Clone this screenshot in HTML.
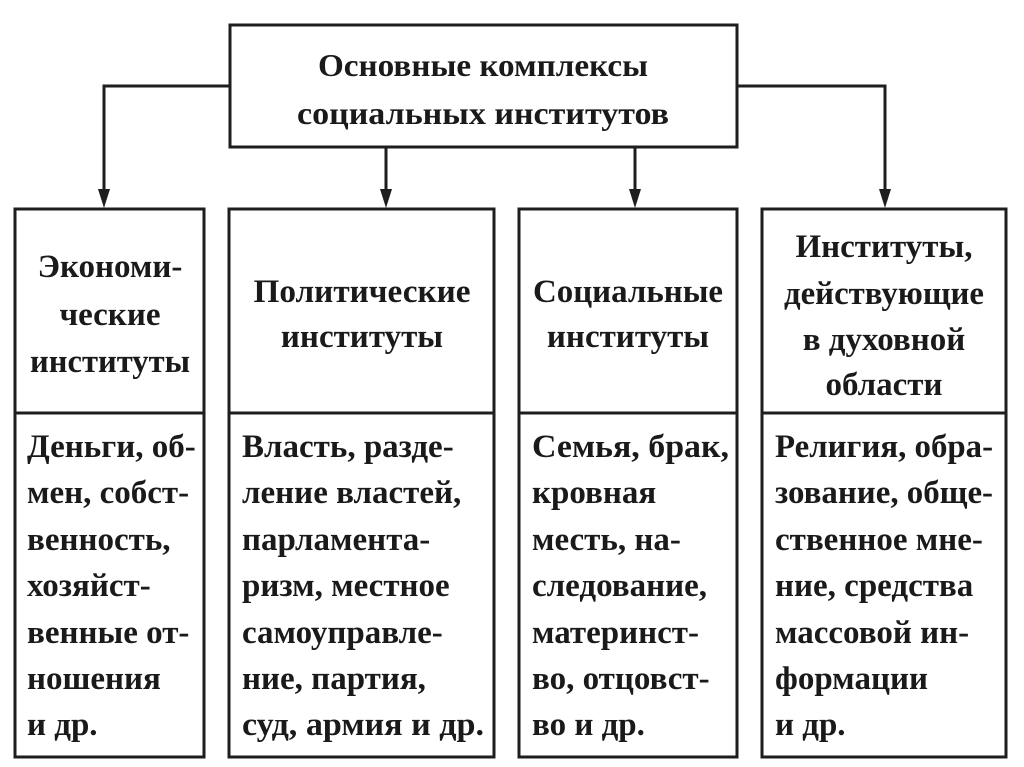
<!DOCTYPE html>
<html><head><meta charset="utf-8"><style>
html,body{margin:0;padding:0;background:#fff;}
svg{display:block}
text{font-family:"Liberation Serif",serif;font-weight:bold;fill:#1a1a1a;}
.h{font-size:33px;text-anchor:middle;}
.b{font-size:33px;}
.t{font-size:32px;text-anchor:middle;}
</style></head><body>
<svg width="1024" height="767" viewBox="0 0 1024 767" xmlns="http://www.w3.org/2000/svg">
<g fill="none" stroke="#1e1e1e" stroke-width="3">
<rect x="230" y="25" width="507" height="122"/>
<polyline points="230,86 104,86 104,196"/>
<polyline points="737,86 885,86 885,196"/>
<line x1="386" y1="147" x2="386" y2="196"/>
<line x1="635" y1="147" x2="635" y2="196"/>
<rect x="15" y="209" width="189" height="548"/>
<rect x="229" y="209" width="265" height="548"/>
<rect x="519" y="209" width="218" height="548"/>
<rect x="762" y="209" width="244" height="548"/>
<line x1="15" y1="413" x2="204" y2="413"/>
<line x1="229" y1="413" x2="494" y2="413"/>
<line x1="519" y1="413" x2="737" y2="413"/>
<line x1="762" y1="413" x2="1006" y2="413"/>
</g>
<g fill="#1e1e1e">
<polygon points="98,189 110,189 104,208"/>
<polygon points="380,189 392,189 386,208"/>
<polygon points="629,189 641,189 635,208"/>
<polygon points="879,189 891,189 885,208"/>
</g>
<text class="t" x="483" y="76" textLength="330" lengthAdjust="spacingAndGlyphs">Основные комплексы</text>
<text class="t" x="483" y="124" textLength="372" lengthAdjust="spacingAndGlyphs">социальных институтов</text>

<text class="h" x="110" y="277">Экономи-</text>
<text class="h" x="110" y="325">ческие</text>
<text class="h" x="110" y="372" textLength="160" lengthAdjust="spacingAndGlyphs">институты</text>

<text class="h" x="362" y="302" textLength="217" lengthAdjust="spacingAndGlyphs">Политические</text>
<text class="h" x="362" y="347">институты</text>

<text class="h" x="628" y="302" textLength="190" lengthAdjust="spacingAndGlyphs">Социальные</text>
<text class="h" x="628" y="347">институты</text>

<text class="h" x="884" y="257">Институты,</text>
<text class="h" x="884" y="304" textLength="200" lengthAdjust="spacingAndGlyphs">действующие</text>
<text class="h" x="884" y="350">в духовной</text>
<text class="h" x="884" y="395">области</text>

<g>
<text class="b" x="27" y="457">Деньги, об-</text>
<text class="b" x="27" y="503">мен, собст-</text>
<text class="b" x="27" y="550">венность,</text>
<text class="b" x="27" y="596">хозяйст-</text>
<text class="b" x="27" y="643">венные от-</text>
<text class="b" x="27" y="689">ношения</text>
<text class="b" x="27" y="735">и др.</text>

<text class="b" x="242" y="457">Власть, разде-</text>
<text class="b" x="242" y="503">ление властей,</text>
<text class="b" x="242" y="550">парламента-</text>
<text class="b" x="242" y="596">ризм, местное</text>
<text class="b" x="242" y="643">самоуправле-</text>
<text class="b" x="242" y="689">ние, партия,</text>
<text class="b" x="242" y="735" textLength="242" lengthAdjust="spacingAndGlyphs">суд, армия и др.</text>

<text class="b" x="532" y="457" textLength="197" lengthAdjust="spacingAndGlyphs">Семья, брак,</text>
<text class="b" x="532" y="503">кровная</text>
<text class="b" x="532" y="550">месть, на-</text>
<text class="b" x="532" y="596">следование,</text>
<text class="b" x="532" y="643">материнст-</text>
<text class="b" x="532" y="689">во, отцовст-</text>
<text class="b" x="532" y="735">во и др.</text>

<text class="b" x="775" y="457" textLength="218" lengthAdjust="spacingAndGlyphs">Религия, обра-</text>
<text class="b" x="775" y="503" textLength="218" lengthAdjust="spacingAndGlyphs">зование, обще-</text>
<text class="b" x="775" y="550">ственное мне-</text>
<text class="b" x="775" y="596">ние, средства</text>
<text class="b" x="775" y="643">массовой ин-</text>
<text class="b" x="775" y="689">формации</text>
<text class="b" x="775" y="735">и др.</text>
</g>
</svg>
</body></html>
